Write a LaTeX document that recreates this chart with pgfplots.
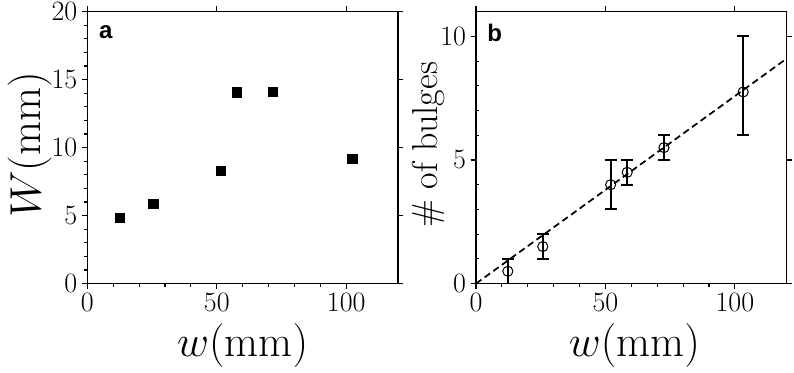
\RequirePackage{fix-cm}
\documentclass[border=0pt]{standalone}
\usepackage{pgfplots}
\pgfplotsset{compat=1.18}
\usepackage{fontspec}
\newfontfamily\hv{Liberation Sans}

\pgfplotsset{
  panel/.style={
    scale only axis, width=233pt, height=204pt,
    xmin=0, xmax=120, xtick={0,50,100},
    axis line style={line width=0.9pt},
    tick align=outside,
    major tick length=4pt, minor tick length=2.4pt,
    tick style={black, line width=0.8pt},
    tick label style={font=\fontsize{21}{21}\selectfont},
    label style={font=\fontsize{33}{33}\selectfont},
  },
  base/.style={panel, xtick pos=left, ytick pos=left, minor x tick num=4, minor y tick num=4},
  over/.style={panel, xtick pos=right, ytick pos=right, xticklabels={}, yticklabels={}},
}

\begin{document}
\begin{tikzpicture}
\path[use as bounding box] (0,1.2pt) rectangle (595.5pt,-277.8pt);

% panel a
\begin{axis}[base, at={(65.5pt,-211.5pt)}, anchor=south west,
    ymin=0, ymax=20, ytick={0,5,10,15,20},
    xlabel={$w(\mathrm{mm})$}, ylabel={$W(\mathrm{mm})$},
    xlabel style={at={(axis description cs:0.5,-0.268)}, anchor=base},
    ylabel style={at={(axis description cs:-0.15,0.51)}, anchor=base},
]
\addplot[only marks, mark=square*, mark size=3.5pt, mark options={black, line width=0.5pt}]
  coordinates {(12.5,4.85) (25.5,5.86) (51.5,8.28) (57.8,14.07) (71.7,14.1) (102.3,9.17)};
\node[anchor=base west, inner sep=0, font=\hv\bfseries\fontsize{18}{18}\selectfont]
  at (rel axis cs:0.037,0.9) {a};
\end{axis}
\begin{axis}[over, at={(65.5pt,-211.5pt)}, anchor=south west,
    ymin=0, ymax=20, ytick={0,5,10,15,20}]
\end{axis}

% panel b
\begin{axis}[base, at={(357pt,-211.5pt)}, anchor=south west,
    ymin=0, ymax=11, ytick={0,5,10},
    minor y tick style={xshift=2.4pt},
    xlabel={$w(\mathrm{mm})$}, ylabel={\# of bulges},
    xlabel style={at={(axis description cs:0.51,-0.268)}, anchor=base},
    ylabel style={at={(axis description cs:-0.125,0.51)}, anchor=base,
                  font=\fontsize{27}{27}\selectfont},
]
\addplot[black, line width=1.3pt, dash pattern=on 5pt off 3pt] coordinates {(0,0) (120,9.1)};
\addplot[only marks, mark=o, mark size=3.8pt, mark options={black, line width=0.75pt},
    error bars/.cd, y dir=both, y explicit,
    error bar style={black, line width=1.5pt},
    error mark options={rotate=90, mark size=4.5pt, line width=1.5pt, black}]
  coordinates {
    (12.3,0.5) +- (0,0.5)
    (25.8,1.5) +- (0,0.5)
    (52,4) +- (0,1)
    (58.4,4.5) +- (0,0.5)
    (72.6,5.5) +- (0,0.5)
    (103.2,7.75) += (0,2.25) -= (0,1.75)
  };
\node[anchor=base west, inner sep=0, font=\hv\bfseries\fontsize{18}{18}\selectfont]
  at (rel axis cs:0.036,0.89) {b};
\end{axis}
\begin{axis}[over, at={(357pt,-211.5pt)}, anchor=south west,
    ymin=0, ymax=11, ytick={0,5,10}]
\end{axis}
\end{tikzpicture}
\end{document}
